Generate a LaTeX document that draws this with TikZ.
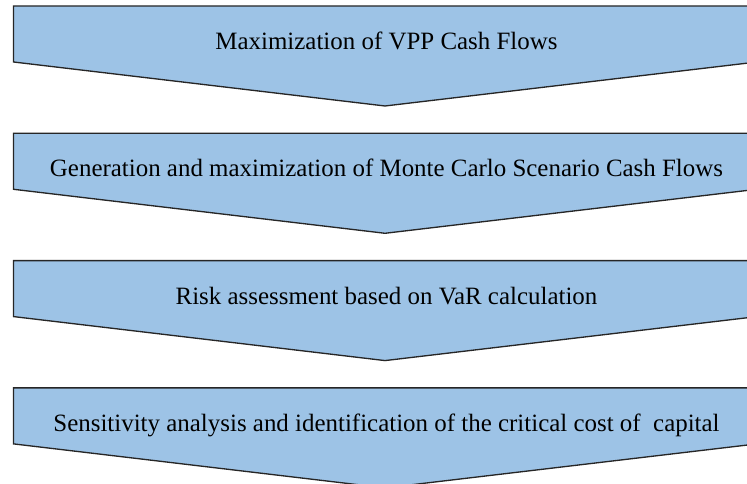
\documentclass[tikz,border=0pt]{standalone}
\usepackage{fontspec}
\setmainfont{Liberation Serif}
\usepackage{tikz}
\usetikzlibrary{
  calc,        % 坐标计算
  positioning  % 节点相对定位
}
\definecolor{stageblue}{RGB}{157,195,230}

\begin{document}
\begin{tikzpicture}[x=0.75pt, y=0.75pt,
    stagebox/.style={draw=black!85, fill=stageblue, line width=1pt, line join=miter},
    stagetext/.style={font=\fontsize{18.7}{22}\selectfont, anchor=base}]
  % 画布范围（右侧箭头框被截断）
  \useasboundingbox (0,0) rectangle (747,484);
  \clip (0,0) rectangle (747,484);

  % 四个向下的箭头形步骤框
  \foreach \i/\txt in {
      0/{Maximization of VPP Cash Flows},
      1/{Generation and maximization of Monte Carlo Scenario Cash Flows},
      2/{Risk assessment based on VaR calculation},
      3/{Sensitivity analysis and identification of the critical cost of\ \ capital}} {
    \pgfmathsetmacro{\ytop}{478-127.3*\i}
    \draw[stagebox] (13.5,\ytop) -- (757,\ytop) -- (757,\ytop-56)
      -- (385,\ytop-100) -- (13.5,\ytop-56) -- cycle;
    \node[stagetext] (stage\i) at (386.5,\ytop-43.5) {\txt};
  }
\end{tikzpicture}
\end{document}
